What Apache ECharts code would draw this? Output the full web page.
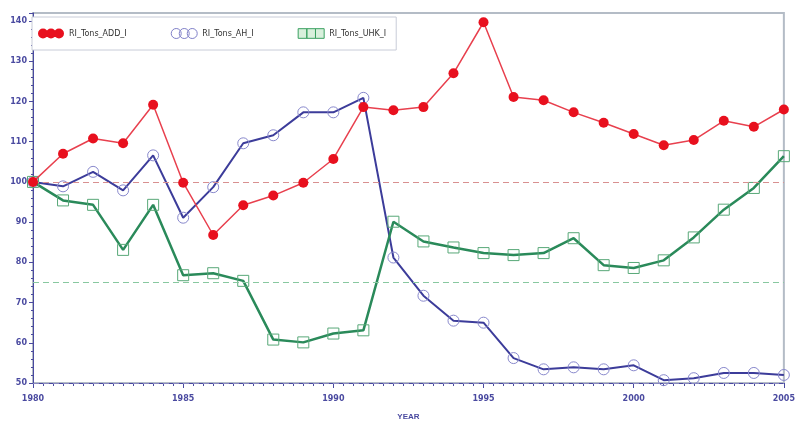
<!DOCTYPE html>
<html><head><meta charset="utf-8">
<script src="https://cdn.jsdelivr.net/npm/echarts@6/dist/echarts.min.js"></script>
<style>html,body{margin:0;padding:0;background:#fff}#c{width:798px;height:426px}</style>
</head><body><div id="c"></div>
<script>
const years = [1980,1981,1982,1983,1984,1985,1986,1987,1988,1989,1990,1991,1992,1993,1994,1995,1996,1997,1998,1999,2000,2001,2002,2003,2004,2005];
const seriesNames = ['RI_Tons_ADD_I','RI_Tons_AH_I','RI_Tons_UHK_I'];
const redValues = [100,107,110.8,109.6,119.2,99.8,86.8,94.2,96.6,99.8,105.7,118.6,117.8,118.6,127,139.7,121.1,120.3,117.3,114.7,111.9,109.1,110.4,115.2,113.7,118];
const blueValues = [100,98.9,102.5,97.9,106.6,91.1,98.7,109.6,111.6,117.3,117.3,120.9,81.2,71.7,65.5,65,56.2,53.4,53.9,53.4,54.4,50.7,51.2,52.5,52.5,52];
const greenValues = [100,95.4,94.3,83.1,94.3,76.8,77.3,75.4,60.8,60.1,62.3,63.1,90.1,85.2,83.7,82.3,81.8,82.3,86,79.3,78.6,80.5,86.2,93.1,98.5,106.4];
const refLines = [100, 50, 75];

const pair = v => years.map((y,i)=>[y,v[i]]);
const axisCol = '#4a4aa0';
const chart = echarts.init(document.getElementById('c'));
const circles = 'path://M0,5a5,5 0 1,0 10,0a5,5 0 1,0 -10,0M8,5a5,5 0 1,0 10,0a5,5 0 1,0 -10,0M16,5a5,5 0 1,0 10,0a5,5 0 1,0 -10,0';
const squares = 'path://M0,0h9v10h-9zM9,0h9v10h-9zM18,0h9v10h-9z';
function ml(v,color){
  return {silent:true,symbol:'none',label:{show:false},
    lineStyle:{color:color,type:[6,4],width:1},data:[{yAxis:v}]};
}
chart.setOption({
  animation:false,
  grid:{left:33,right:8,top:13,bottom:39,show:true,borderColor:'#b4bcc6',borderWidth:2,backgroundColor:'#fff'},
  legend:{
    left:32,top:17,height:33,
    padding:[11,10,11,6],itemGap:44,
    backgroundColor:'#fff',borderColor:'#c8ccd8',borderWidth:1,
    itemWidth:26,itemHeight:10,
    textStyle:{fontSize:8,color:'#333',fontFamily:'DejaVu Sans'},
    data:[
      {name:seriesNames[0],icon:circles,itemStyle:{color:'#e8101e',borderWidth:0}},
      {name:seriesNames[1],icon:circles,itemStyle:{color:'#fff',borderColor:'#8080c8',borderWidth:1}},
      {name:seriesNames[2],icon:squares,itemStyle:{color:'#d8f0dc',borderColor:'#3aa060',borderWidth:1}}
    ]
  },
  xAxis:{type:'value',min:1980,max:2005,interval:5,
    name:'YEAR',nameLocation:'middle',nameGap:30,
    nameTextStyle:{fontSize:8,color:axisCol,fontWeight:'bold'},
    axisLine:{show:true,lineStyle:{color:axisCol,width:1}},
    axisTick:{show:true,length:5,lineStyle:{color:axisCol}},
    minorTick:{show:true,splitNumber:15,length:3,lineStyle:{color:axisCol}},
    splitLine:{show:false},
    axisLabel:{fontSize:8,color:axisCol,fontWeight:'bold',margin:12,fontFamily:'DejaVu Sans',formatter:v=>String(v)}
  },
  yAxis:{type:'value',min:50,max:142,interval:10,
    axisLine:{show:true,lineStyle:{color:axisCol,width:1}},
    axisTick:{show:true,length:4,lineStyle:{color:axisCol}},
    minorTick:{show:true,splitNumber:5,length:2,lineStyle:{color:axisCol}},
    splitLine:{show:false},
    axisLabel:{fontSize:8,color:axisCol,fontWeight:'bold',margin:6,showMaxLabel:false,fontFamily:'DejaVu Sans'}
  },
  series:[
    {name:seriesNames[0],type:'line',data:pair(redValues),z:5,
      symbol:'circle',symbolSize:10,
      itemStyle:{color:'#e8101e'},lineStyle:{color:'#e8404e',width:1.5},
      markLine:ml(refLines[0],'#d89090')},
    {name:seriesNames[1],type:'line',data:pair(blueValues),z:3,
      symbol:'circle',symbolSize:11,
      itemStyle:{color:'rgba(255,255,255,0)',borderColor:'#8888cc',borderWidth:1},lineStyle:{color:'#3c3c9a',width:2},
      markLine:ml(refLines[1],'#8888c0')},
    {name:seriesNames[2],type:'line',data:pair(greenValues),z:4,
      symbol:'rect',symbolSize:11,
      itemStyle:{color:'rgba(255,255,255,0)',borderColor:'#58a878',borderWidth:1},lineStyle:{color:'#2a8a5a',width:2.5},
      markLine:ml(refLines[2],'#88c8a0')}
  ]
});
</script></body></html>
